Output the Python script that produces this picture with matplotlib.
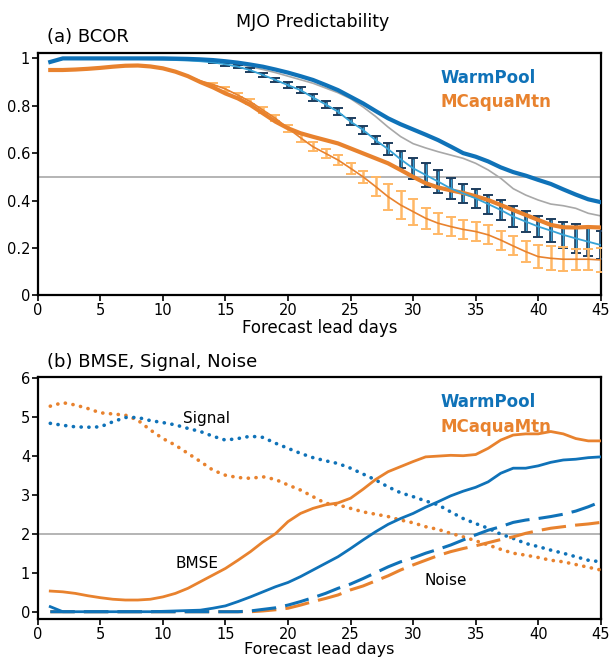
import numpy as np
import matplotlib
matplotlib.use("Agg")
import matplotlib.pyplot as plt

# lead days
days = np.arange(1, 46)

# ---- panel (a) BCOR ----
bcor_warm = [0.985, 1.0, 1.0, 1.0, 1.0, 1.0, 1.0, 1.0, 1.0, 1.0,
             0.999, 0.998, 0.996, 0.993, 0.988, 0.982, 0.974, 0.965, 0.953, 0.94,
             0.925, 0.909, 0.888, 0.866, 0.838, 0.81, 0.778, 0.747, 0.722, 0.70,
             0.678, 0.655, 0.628, 0.60, 0.585, 0.565, 0.54, 0.52, 0.505, 0.487,
             0.47, 0.447, 0.425, 0.405, 0.393]
bcor_gray = [0.985, 0.997, 0.997, 0.997, 0.997, 0.997, 0.997, 0.997, 0.996, 0.995,
             0.994, 0.992, 0.99, 0.987, 0.982, 0.975, 0.965, 0.953, 0.94, 0.925,
             0.91, 0.895, 0.875, 0.855, 0.83, 0.795, 0.755, 0.71, 0.67, 0.64,
             0.622, 0.606, 0.592, 0.578, 0.557, 0.529, 0.494, 0.45, 0.423, 0.402,
             0.385, 0.378, 0.367, 0.346, 0.335]
bcor_warm_ens = [0.985, 0.997, 0.997, 0.997, 0.997, 0.997, 0.997, 0.997, 0.996, 0.995,
                 0.993, 0.991, 0.988, 0.983, 0.975, 0.965, 0.95, 0.93, 0.909, 0.887,
                 0.866, 0.835, 0.806, 0.775, 0.733, 0.698, 0.655, 0.617, 0.574, 0.536,
                 0.508, 0.48, 0.451, 0.43, 0.409, 0.385, 0.36, 0.332, 0.311, 0.29,
                 0.273, 0.255, 0.24, 0.226, 0.212]
err_warm = [0, 0, 0, 0, 0, 0, 0, 0, 0, 0,
            0, 0, 0, 0.004, 0.006, 0.007, 0.008, 0.009, 0.01, 0.012,
            0.013, 0.014, 0.015, 0.015, 0.015, 0.016, 0.018, 0.025, 0.035, 0.045,
            0.05, 0.05, 0.045, 0.04, 0.04, 0.04, 0.042, 0.045, 0.045, 0.045,
            0.05, 0.055, 0.06, 0.06, 0.06]
bcor_mc = [0.951, 0.951, 0.953, 0.956, 0.96, 0.965, 0.969, 0.97, 0.966, 0.958,
           0.944, 0.925, 0.90, 0.878, 0.852, 0.831, 0.803, 0.768, 0.733, 0.705,
           0.684, 0.669, 0.655, 0.641, 0.62, 0.599, 0.578, 0.557, 0.529, 0.50,
           0.473, 0.455, 0.443, 0.432, 0.418, 0.402, 0.381, 0.36, 0.339, 0.318,
           0.297, 0.287, 0.286, 0.288, 0.286]
bcor_mc_ens = [0.951, 0.951, 0.953, 0.956, 0.96, 0.965, 0.969, 0.97, 0.966, 0.958,
               0.944, 0.925, 0.905, 0.89, 0.871, 0.845, 0.817, 0.782, 0.747, 0.705,
               0.665, 0.627, 0.599, 0.571, 0.536, 0.50, 0.459, 0.416, 0.381, 0.353,
               0.325, 0.304, 0.29, 0.278, 0.269, 0.255, 0.233, 0.208, 0.184, 0.163,
               0.156, 0.152, 0.152, 0.152, 0.149]
err_mc = [0, 0, 0, 0, 0, 0, 0, 0, 0, 0,
          0, 0, 0, 0.006, 0.008, 0.009, 0.01, 0.012, 0.013, 0.015,
          0.016, 0.018, 0.02, 0.02, 0.022, 0.025, 0.04, 0.055, 0.06, 0.055,
          0.045, 0.045, 0.042, 0.04, 0.04, 0.04, 0.04, 0.04, 0.045, 0.05,
          0.05, 0.05, 0.045, 0.045, 0.05]

# ---- panel (b) BMSE, Signal, Noise ----
sig_warm = [4.83, 4.78, 4.74, 4.73, 4.74, 4.87, 4.98, 4.98, 4.9, 4.85,
            4.79, 4.7, 4.62, 4.5, 4.4, 4.44, 4.5, 4.47, 4.32, 4.19,
            4.06, 3.95, 3.87, 3.8, 3.68, 3.53, 3.38, 3.2, 3.05, 2.95,
            2.84, 2.74, 2.56, 2.39, 2.26, 2.14, 1.99, 1.88, 1.75, 1.67,
            1.58, 1.5, 1.41, 1.32, 1.28]
sig_mc = [5.27, 5.36, 5.3, 5.21, 5.1, 5.07, 5.04, 4.91, 4.66, 4.44,
          4.27, 4.06, 3.85, 3.63, 3.5, 3.44, 3.42, 3.46, 3.39, 3.25,
          3.12, 2.95, 2.78, 2.74, 2.65, 2.56, 2.5, 2.44, 2.35, 2.28,
          2.18, 2.11, 2.01, 1.92, 1.82, 1.71, 1.6, 1.5, 1.45, 1.39,
          1.32, 1.28, 1.21, 1.14, 1.07]
bmse_warm = [0.13, 0.0, 0.0, 0.0, 0.0, 0.0, 0.0, 0.0, 0.0, 0.01,
             0.02, 0.03, 0.04, 0.09, 0.15, 0.26, 0.38, 0.51, 0.64, 0.75,
             0.9, 1.07, 1.24, 1.41, 1.62, 1.84, 2.05, 2.24, 2.39, 2.52,
             2.68, 2.82, 2.97, 3.09, 3.19, 3.33, 3.55, 3.68, 3.68, 3.74,
             3.83, 3.89, 3.91, 3.95, 3.97]
bmse_mc = [0.53, 0.51, 0.47, 0.41, 0.36, 0.32, 0.3, 0.3, 0.32, 0.38,
           0.47, 0.6, 0.77, 0.94, 1.11, 1.32, 1.54, 1.79, 2.0, 2.31,
           2.52, 2.65, 2.74, 2.79, 2.91, 3.14, 3.39, 3.59, 3.72, 3.85,
           3.97, 3.99, 4.01, 4.0, 4.03, 4.19, 4.4, 4.53, 4.56, 4.56,
           4.62, 4.56, 4.44, 4.38, 4.38]
noise_warm = [0.0, 0.0, 0.0, 0.0, 0.0, 0.0, 0.0, 0.0, 0.0, 0.0,
              0.0, 0.0, 0.0, 0.0, 0.0, 0.0, 0.02, 0.06, 0.1, 0.17,
              0.26, 0.36, 0.47, 0.6, 0.71, 0.85, 1.0, 1.15, 1.28, 1.38,
              1.5, 1.6, 1.71, 1.84, 1.97, 2.09, 2.18, 2.29, 2.35, 2.39,
              2.44, 2.5, 2.58, 2.69, 2.82]
noise_mc = [0.0, 0.0, 0.0, 0.0, 0.0, 0.0, 0.0, 0.0, 0.0, 0.0,
            0.0, 0.0, 0.0, 0.0, 0.0, 0.0, 0.0, 0.02, 0.05, 0.09,
            0.17, 0.26, 0.34, 0.43, 0.56, 0.66, 0.79, 0.92, 1.07, 1.2,
            1.32, 1.44, 1.54, 1.62, 1.69, 1.77, 1.85, 1.92, 2.01, 2.08,
            2.14, 2.18, 2.22, 2.25, 2.29]

BLUE = "#0f72b8"
LBLUE = "#36a2d6"
NAVY = "#1d3d5e"
ORANGE = "#e8822e"
LORANGE = "#ffb866"
GRAY = "#a8a8a8"

plt.rcParams["font.family"] = "DejaVu Sans"

fig = plt.figure(figsize=(6.09, 6.59), dpi=100)
ax1 = fig.add_axes([0.062, 0.552, 0.9245, 0.368])
ax2 = fig.add_axes([0.062, 0.0602, 0.9245, 0.3682])

def style(ax, fs=12):
    for s in ax.spines.values():
        s.set_linewidth(1.6)
    ax.tick_params(direction="out", length=4, width=1.2, labelsize=10.5, pad=1.5)
    ax.set_xlim(0, 45)
    ax.set_xticks(range(0, 46, 5))
    ax.set_xlabel("Forecast lead days", fontsize=fs, labelpad=1)

# panel (a)
d = np.array(days)
ens_w = np.array(bcor_warm_ens)
ew = np.array(err_warm)
m = ew > 0
ax1.axhline(0.5, color=GRAY, lw=1.2, zorder=1)
ax1.plot(days, bcor_gray, color=GRAY, lw=1.2, zorder=2)
# warm pool bars: navy outline with a light blue core
ax1.vlines(d[m], ens_w[m] - ew[m], ens_w[m] + ew[m], color=NAVY, lw=2.6, zorder=3)
ax1.vlines(d[m], ens_w[m] - ew[m] + 0.004, ens_w[m] + ew[m] - 0.004, color=LBLUE, lw=1.0, zorder=3)
ax1.errorbar(d[m], ens_w[m], yerr=ew[m], fmt="none",
             ecolor=NAVY, elinewidth=0, capsize=3.5, capthick=1.4, zorder=3)
ens_m = np.array(bcor_mc_ens)
em = np.array(err_mc)
mm = em > 0
ax1.errorbar(d[mm], ens_m[mm], yerr=em[mm], fmt="none",
             ecolor=LORANGE, elinewidth=1.8, capsize=3.5, capthick=1.4, zorder=3)
ax1.plot(days, bcor_mc_ens, color=ORANGE, lw=1.2, zorder=4)
ax1.plot(days, bcor_warm_ens, color=LBLUE, lw=1.3, zorder=5)
ax1.plot(days, bcor_mc, color=ORANGE, lw=3, zorder=4)
ax1.plot(days, bcor_warm, color=BLUE, lw=3, zorder=6)
ax1.set_ylim(0, 1.024)
ax1.set_yticks([0, 0.2, 0.4, 0.6, 0.8, 1])
ax1.set_yticklabels(["0", "0.2", "0.4", "0.6", "0.8", "1"])
style(ax1)
ax1.text(32.2, 0.916, "WarmPool", color=BLUE, fontsize=12, fontweight="semibold", va="center")
ax1.text(32.2, 0.817, "MCaquaMtn", color=ORANGE, fontsize=12, fontweight="semibold", va="center")
fig.text(0.514, 0.967, "MJO Predictability", ha="center", va="center", fontsize=12.5)
fig.text(0.077, 0.944, "(a) BCOR", ha="left", va="center", fontsize=13)

# panel (b)
dots = (0, (0.05, 2.1))
ax2.axhline(2.0, color=GRAY, lw=1.2, zorder=1)
ax2.plot(days, sig_mc, color=ORANGE, lw=2.6, ls=dots, dash_capstyle="round", zorder=3)
ax2.plot(days, sig_warm, color=BLUE, lw=2.6, ls=dots, dash_capstyle="round", zorder=3)
ax2.plot(days, noise_mc, color=ORANGE, lw=2.2, ls=(0, (8, 3)), zorder=3)
ax2.plot(days, noise_warm, color=BLUE, lw=2.2, ls=(0, (8, 3)), zorder=3)
ax2.plot(days, bmse_mc, color=ORANGE, lw=2.0, zorder=4)
ax2.plot(days, bmse_warm, color=BLUE, lw=2.0, zorder=4)
ax2.set_ylim(-0.195, 6.026)
ax2.set_yticks(range(0, 7))
style(ax2, fs=11.5)
ax2.xaxis.labelpad = 0
ax2.text(13.5, 4.96, "Signal", fontsize=11, ha="center", va="center")
ax2.text(12.7, 1.24, "BMSE", fontsize=11, ha="center", va="center")
ax2.text(32.6, 0.81, "Noise", fontsize=11, ha="center", va="center")
ax2.text(32.2, 5.38, "WarmPool", color=BLUE, fontsize=12, fontweight="semibold", va="center")
ax2.text(32.2, 4.74, "MCaquaMtn", color=ORANGE, fontsize=12, fontweight="semibold", va="center")
fig.text(0.077, 0.451, "(b) BMSE, Signal, Noise", ha="left", va="center", fontsize=13)

fig.savefig("out.png", dpi=100)
